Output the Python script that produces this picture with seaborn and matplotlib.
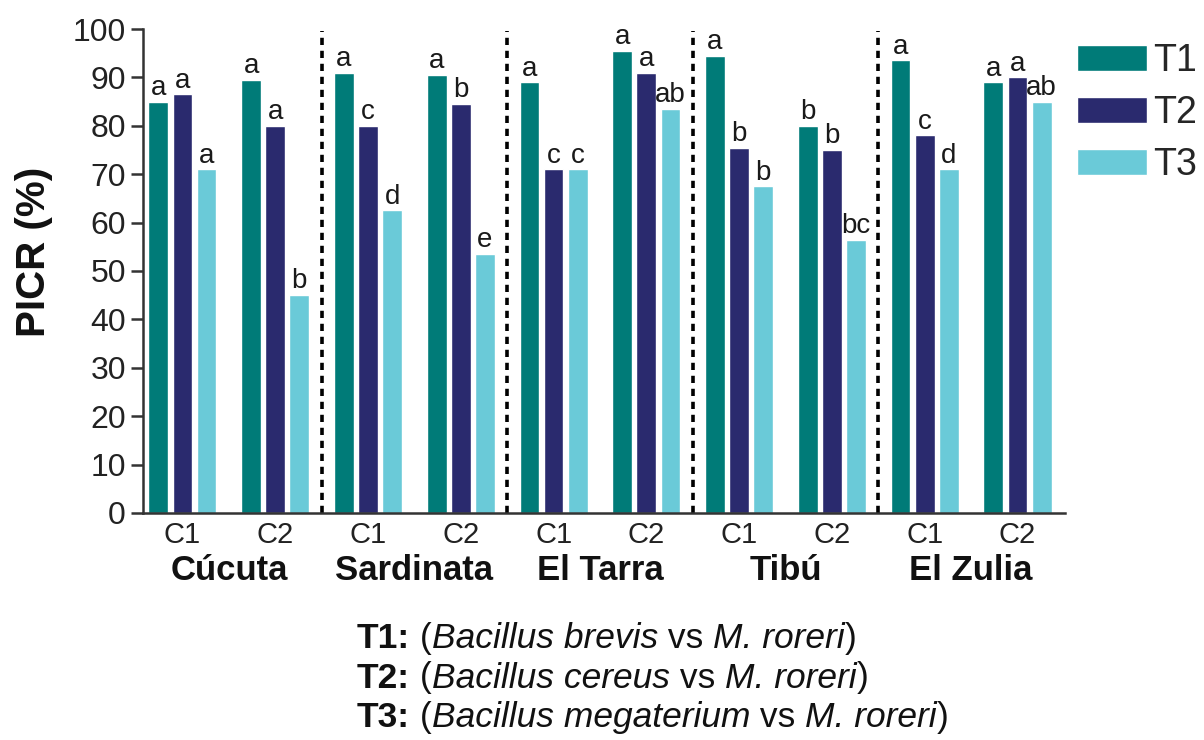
import matplotlib
matplotlib.use("Agg")
import matplotlib.pyplot as plt
import seaborn as sns
import pandas as pd

# ---------------- data ----------------
locations = ["Cúcuta", "Sardinata", "El Tarra", "Tibú", "El Zulia"]
conditions = ["C1", "C2"]
treatments = ["T1", "T2", "T3"]
t1_values = [85, 89.5, 91, 90.5, 89, 95.5, 94.5, 80, 93.5, 89]
t2_values = [86.5, 80, 80, 84.5, 71, 91, 75.5, 75, 78, 90]
t3_values = [71, 45, 62.5, 53.5, 71, 83.5, 67.5, 56.5, 71, 85]
t1_letters = ["a", "a", "a", "a", "a", "a", "a", "b", "a", "a"]
t2_letters = ["a", "a", "c", "b", "c", "a", "b", "b", "c", "a"]
t3_letters = ["a", "b", "d", "e", "c", "ab", "b", "bc", "d", "ab"]
caption_species = ["Bacillus brevis", "Bacillus cereus", "Bacillus megaterium"]
caption_target = "M. roreri"
colors = ["#007B78", "#2A2A6E", "#6ACAD8"]

# ---------------- table ----------------
groups = [f"{loc} {c}" for loc in locations for c in conditions]
rows = []
for tr, vals in zip(treatments, [t1_values, t2_values, t3_values]):
    for g, v in zip(groups, vals):
        rows.append({"group": g, "treatment": tr, "value": v})
df = pd.DataFrame(rows)

sns.set_theme(style="white")
plt.rcParams["font.family"] = ["Liberation Sans", "DejaVu Sans"]

fig = plt.figure(figsize=(12.04, 7.40), dpi=100)
ax = fig.add_axes([0.1184, 0.3068, 0.766, 0.654])

sns.barplot(data=df, x="group", y="value", hue="treatment", order=groups,
            hue_order=treatments, palette=colors, width=0.78, gap=0.18,
            saturation=1, ax=ax, legend=True, errorbar=None)

ax.set_xlim(-0.43, 9.51)
ax.set_ylim(0, 100)
ax.set_yticks(range(0, 101, 10))
ax.tick_params(axis="y", which="both", left=True, length=9, width=1.8,
               color="#333333", labelsize=23, labelcolor="#222222", pad=3)
ax.set_xticks(range(len(groups)))
ax.set_xticklabels([g.split(" ")[-1] for g in groups])
ax.tick_params(axis="x", length=0, labelsize=21, labelcolor="#222222", pad=6)
ax.set_xlabel("")
ax.set_ylabel("")
for s in ["top", "right"]:
    ax.spines[s].set_visible(False)
for s in ["left", "bottom"]:
    ax.spines[s].set_linewidth(1.8)
    ax.spines[s].set_color("#333333")

# significance letters
for cont, letters in zip(ax.containers, [t1_letters, t2_letters, t3_letters]):
    ax.bar_label(cont, labels=letters, padding=0.5, fontsize=20, color="#1a1a1a")

# dotted separators
for i in range(1, len(locations)):
    ax.axvline(2 * i - 0.5, ymin=0, ymax=0.995, color="black", lw=2.6,
               linestyle=(0, (2.0, 1.6)))

# location labels
for i, loc in enumerate(locations):
    ax.text(2 * i + 0.5, -0.118, loc, transform=ax.get_xaxis_transform(),
            ha="center", va="center", fontsize=25, fontweight="bold",
            color="#111111")

# y label
fig.text(34 / 1204, 1 - 252 / 740, "PICR (%)", rotation=90, ha="center",
         va="center", fontsize=29, fontweight="bold", color="#111111")

# legend
handles, labels = ax.get_legend_handles_labels()
ax.legend_.remove()
fig.legend(handles, labels, loc="upper left",
           bbox_to_anchor=(1077 / 1204, 1 - 43 / 740), frameon=False,
           fontsize=27, handlelength=1.87, handleheight=0.71,
           handletextpad=0.15, labelspacing=0.43, borderpad=0,
           borderaxespad=0)

# caption, drawn piece by piece
renderer = fig.canvas.get_renderer()
for k, (tr, sp) in enumerate(zip(treatments, caption_species)):
    pieces = [(tr + ":", "normal", "bold"), (" (", "normal", "normal"),
              (sp, "italic", "normal"), (" vs ", "normal", "normal"),
              (caption_target, "italic", "normal"), (")", "normal", "normal")]
    x_px = 357
    y = 1 - (635 + 39.5 * k) / 740
    for txt, style, weight in pieces:
        t = fig.text(x_px / 1204, y, txt, ha="left", va="center_baseline",
                     fontsize=25.5, fontstyle=style, fontweight=weight,
                     color="#111111")
        x_px += t.get_window_extent(renderer).width

fig.savefig("out.png", dpi=100)
